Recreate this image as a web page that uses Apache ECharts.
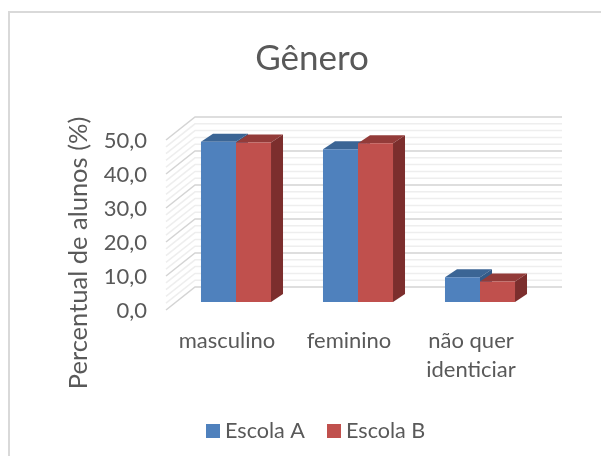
<!DOCTYPE html>
<html>
<head>
<meta charset="utf-8">
<title>Gênero</title>
<style>
html, body { margin: 0; padding: 0; background: #fff; }
#chart { width: 601px; height: 456px; }
</style>
<script src="https://cdn.jsdelivr.net/npm/echarts@6/dist/echarts.min.js"></script>
</head>
<body>
<div id="chart"></div>
<script>
var categories = ['masculino', 'feminino', 'não quer\nidenticiar'];
var escolaA = [47.1, 44.9, 7.3];
var escolaB = [46.9, 46.7, 6.0];
var majorTicks = [0, 10, 20, 30, 40, 50];
var minorTicks = [2, 4, 6, 8, 12, 14, 16, 18, 22, 24, 26, 28, 32, 34, 36, 38, 42, 44, 46, 48];

var textColor = '#595959';
var fontName = 'Lato';

// how far the fake 3d goes, in pixels
var barDepth = [12, -8];
var backWall = [20, -15];
var frontWall = [-9, 8];
var barRatio = 0.287;

function render_bar(front, top, side, dir) {
	return function (params, api) {
		var base = api.coord([api.value(0), 0]);
		var head = api.coord([api.value(0), api.value(1)]);
		var w = api.size([1, 0])[0] * barRatio;
		var x0 = dir < 0 ? base[0] - w : base[0];
		var x1 = x0 + w;
		var dx = barDepth[0], dy = barDepth[1];
		return {
			type: 'group',
			children: [
				{ type: 'polygon', shape: { points: [[x0, head[1]], [x1, head[1]], [x1 + dx, head[1] + dy], [x0 + dx, head[1] + dy]] }, style: { fill: top } },
				{ type: 'polygon', shape: { points: [[x1, head[1]], [x1 + dx, head[1] + dy], [x1 + dx, base[1] + dy], [x1, base[1]]] }, style: { fill: side } },
				{ type: 'rect', shape: { x: x0, y: head[1], width: w, height: base[1] - head[1] }, style: { fill: front } }
			]
		};
	};
}

function render_wall(color, width) {
	return function (params, api) {
		var p = api.coord([0, api.value(0)]);
		var sys = params.coordSys;
		var y = p[1];
		return {
			type: 'polyline',
			shape: { points: [
				[sys.x + frontWall[0], y + frontWall[1]],
				[sys.x + backWall[0], y + backWall[1]],
				[sys.x + sys.width + backWall[0] + 1, y + backWall[1]]
			] },
			style: { fill: null, stroke: color, lineWidth: width },
			silent: true
		};
	};
}

var myChart = echarts.init(document.getElementById('chart'));

var option = {
	backgroundColor: '#fff',
	animation: false,
	textStyle: { fontFamily: fontName },
	title: {
		text: 'Gênero',
		left: 307,
		top: 36,
		textAlign: 'center',
		textStyle: { color: textColor, fontSize: 35, fontWeight: 'normal', fontFamily: fontName }
	},
	legend: {
		data: ['Escola A', 'Escola B'],
		left: 206,
		top: 420,
		padding: 0,
		icon: 'rect',
		itemWidth: 14,
		itemHeight: 14,
		itemGap: 22,
		textStyle: { color: textColor, fontSize: 21.6, fontFamily: fontName }
	},
	grid: { left: 175, top: 132, width: 366, height: 170 },
	xAxis: {
		type: 'category',
		data: categories,
		axisLine: { show: false },
		axisTick: { show: false },
		axisLabel: {
			color: textColor,
			fontSize: 22,
			fontFamily: fontName,
			margin: 24,
			lineHeight: 29,
			interval: 0,
			hideOverlap: false,
			padding: [0, 18, 0, 0]
		}
	},
	yAxis: {
		type: 'value',
		min: 0,
		max: 50,
		interval: 10,
		splitLine: { show: false },
		axisLine: { show: false },
		axisTick: { show: false },
		axisLabel: {
			color: textColor,
			fontSize: 22,
			fontFamily: fontName,
			margin: 28,
			verticalAlign: 'top',
			lineHeight: 18,
			formatter: function (v) { return v.toFixed(1).replace('.', ','); }
		}
	},
	graphic: [
		{ type: 'polyline', silent: true, shape: { points: [[9, 456], [9, 12], [601, 12]] }, style: { fill: null, stroke: '#d9d9d9', lineWidth: 2 } },
		{
			type: 'text', silent: true, x: 79, y: 253, rotation: Math.PI / 2,
			style: { text: 'Percentual de alunos (%)', fill: textColor, fontSize: 25.5, fontFamily: fontName, align: 'center', verticalAlign: 'middle' }
		}
	],
	series: [
		{ name: 'minor', type: 'custom', data: minorTicks.map(function (v) { return [v]; }), encode: { y: 0 }, renderItem: render_wall('#eeeeee', 1.5), silent: true, z: 1 },
		{ name: 'major', type: 'custom', data: majorTicks.map(function (v) { return [v]; }), encode: { y: 0 }, renderItem: render_wall('#d4d4d4', 1.5), silent: true, z: 1 },
		{
			name: 'Escola A', type: 'custom', z: 2,
			itemStyle: { color: '#4f81bd' },
			data: escolaA.map(function (v, i) { return [i, v]; }),
			encode: { x: 0, y: 1 },
			renderItem: render_bar('#4f81bd', '#3b6595', '#335a87', -1)
		},
		{
			name: 'Escola B', type: 'custom', z: 3,
			itemStyle: { color: '#c0504d' },
			data: escolaB.map(function (v, i) { return [i, v]; }),
			encode: { x: 0, y: 1 },
			renderItem: render_bar('#c0504d', '#933b39', '#7c2e2d', 1)
		}
	]
};

myChart.setOption(option);
window.onresize = function () {
	myChart.resize();
};
</script>
</body>
</html>
